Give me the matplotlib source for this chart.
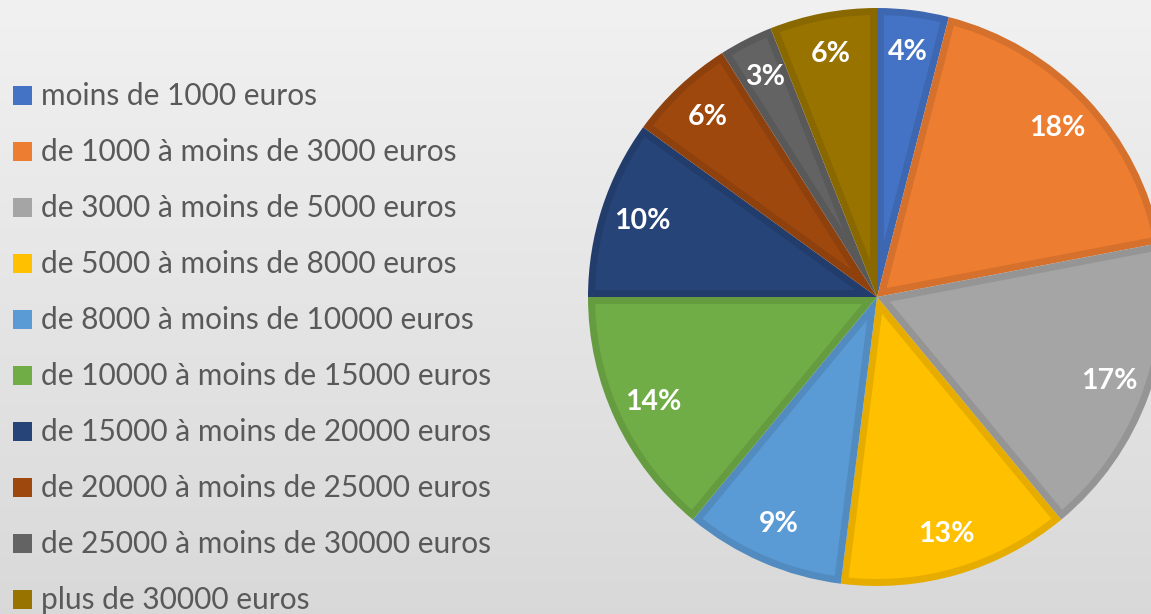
import numpy as np
import matplotlib
matplotlib.use("Agg")
import matplotlib.pyplot as plt
from matplotlib.patches import Rectangle, Polygon
from matplotlib.colors import to_rgb

W, H = 1151, 614

categories = [
    "moins de 1000 euros",
    "de 1000 à moins de 3000 euros",
    "de 3000 à moins de 5000 euros",
    "de 5000 à moins de 8000 euros",
    "de 8000 à moins de 10000 euros",
    "de 10000 à moins de 15000 euros",
    "de 15000 à moins de 20000 euros",
    "de 20000 à moins de 25000 euros",
    "de 25000 à moins de 30000 euros",
    "plus de 30000 euros",
]
shares = [4, 18, 17, 13, 9, 14, 10, 6, 3, 6]
colors = ["#4472C4", "#ED7D31", "#A5A5A5", "#FFC000", "#5B9BD5",
          "#70AD47", "#264478", "#9E480E", "#636363", "#997300"]


def darker(c, f=0.9):
    r, g, b = to_rgb(c)
    return (r * f, g * f, b * f)


def inset_wedge(theta1, theta2, r, b, n=120):
    # wedge shrunk by a border of width b (data units), centred on (0, 0)
    t1, t2 = np.radians(theta1), np.radians(theta2)
    half = (t2 - t1) / 2
    mid = t1 + half
    apex = b / np.sin(half)
    delta = np.arctan2(b, np.sqrt((r - b) ** 2 - b ** 2))
    ang = np.linspace(t1 + delta, t2 - delta, n)
    pts = [(apex * np.cos(mid), apex * np.sin(mid))]
    pts += list(zip((r - b) * np.cos(ang), (r - b) * np.sin(ang)))
    return pts


fig = plt.figure(figsize=(W / 100, H / 100), dpi=100)

# background gradient
bg = fig.add_axes([0, 0, 1, 1])
grad = np.linspace(0.945, 0.85, 256).reshape(-1, 1)
bg.imshow(np.dstack([grad, grad, grad]), aspect="auto", extent=[0, 1, 0, 1])
bg.set_axis_off()

# pie
cx, cy, R = 877, 297, 289
ax = fig.add_axes([(cx - R) / W, (H - cy - R) / H, 2 * R / W, 2 * R / H])
wedges, texts, autotexts = ax.pie(
    shares, colors=[darker(c) for c in colors], startangle=90,
    counterclock=False, autopct=lambda p: f"{p:.0f}%", pctdistance=0.855,
    wedgeprops=dict(linewidth=0),
    textprops=dict(color="white", fontsize=20.5, fontweight="bold",
                   family="Lato"))
border = 7 / R
for w, c in zip(wedges, colors):
    ax.add_patch(Polygon(inset_wedge(w.theta1, w.theta2, w.r, border),
                         closed=True, facecolor=c, edgecolor="none",
                         zorder=w.get_zorder() + 0.5))
for t in autotexts:
    t.set_zorder(5)
ax.set_xlim(-1, 1)
ax.set_ylim(-1, 1)
ax.set_aspect("equal")
ax.set_axis_off()

# legend
y0, dy = 95, 56
for i, (lab, c) in enumerate(zip(categories, colors)):
    y = y0 + dy * i
    fig.add_artist(Rectangle((13 / W, 1 - (y + 9.5) / H), 19 / W, 19 / H,
                             facecolor=c, edgecolor="none",
                             transform=fig.transFigure))
    fig.text(41 / W, 1 - (y + 1) / H, lab, va="center", ha="left",
             fontsize=21.5, color="#595959", family="Lato")

fig.savefig("out.png", dpi=100)
